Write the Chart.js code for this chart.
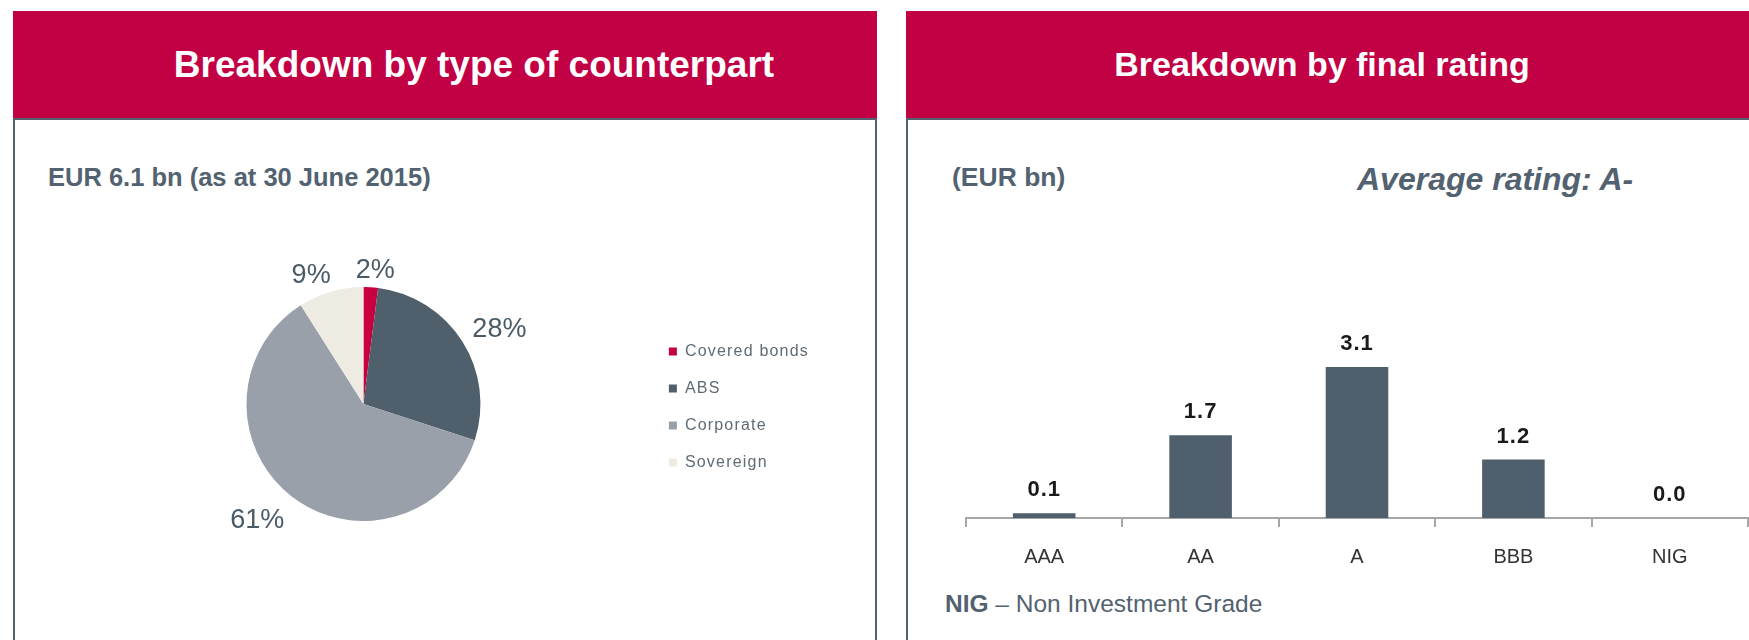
<!DOCTYPE html>
<html>
<head>
<meta charset="utf-8">
<title>Breakdown by counterpart and rating</title>
<script src="https://cdn.jsdelivr.net/npm/chart.js"></script>
<style>
  body { margin: 0; width: 1749px; height: 640px; overflow: hidden; background: #fff; position: relative;
         font-family: "Liberation Sans", Arial, sans-serif; }
  .hdr { position: absolute; top: 11px; height: 107px; background: #c20044; color: #fff; font-weight: bold;
         display: flex; align-items: center; justify-content: center; box-sizing: border-box; }
  .panel { position: absolute; top: 118px; height: 540px; border: 2px solid #536270; border-bottom: none;
           box-sizing: border-box; }
  .txt { position: absolute; color: #536270; white-space: nowrap; }
  canvas { position: absolute; }
</style>
</head>
<body>
<div class="panel" style="left:13px;width:864px;"></div>
<div class="panel" style="left:906px;width:870px;border-right:none;"></div>
<div class="hdr" style="left:13px;width:864px;padding-left:58px;font-size:37px;">Breakdown by type of counterpart</div>
<div class="hdr" style="left:906px;width:843px;padding-right:11px;font-size:34px;">Breakdown by final rating</div>

<div class="txt" style="left:48px;top:165px;font-size:25.5px;line-height:25px;font-weight:bold;">EUR 6.1 bn (as at 30 June 2015)</div>
<div class="txt" style="left:952px;top:164px;font-size:26.5px;line-height:26px;font-weight:bold;">(EUR bn)</div>
<div class="txt" style="left:1357px;top:163px;font-size:32px;line-height:32px;font-weight:bold;font-style:italic;">Average rating: A-</div>
<div class="txt" style="left:945px;top:592px;font-size:24.5px;line-height:24px;"><b>NIG</b> &ndash; Non Investment Grade</div>

<canvas id="pieChart" width="829" height="330" style="left:15px;top:230px;"></canvas>
<canvas id="barChart" width="788" height="278" style="left:961px;top:300px;"></canvas>

<script>
// counterpart breakdown (% of EUR 6.1 bn)
const counterpartLabels = ["Covered bonds", "ABS", "Corporate", "Sovereign"];
const counterpartShare = [2, 28, 61, 9];
const counterpartColors = ["#c8003f", "#4f5f6b", "#99a0aa", "#eeebe2"];

// rating breakdown (EUR bn)
const ratingLabels = ["AAA", "AA", "A", "BBB", "NIG"];
const ratingValues = [0.1, 1.7, 3.1, 1.2, 0.0];

const FONT = '"Liberation Sans", Arial, sans-serif';
const NARROW = '"Liberation Sans Narrow", "Arial Narrow", "Liberation Sans", sans-serif';

document.addEventListener("DOMContentLoaded", function () {

  // spaced-out legend text like the original slide
  const legendSpacing = {
    id: "legendSpacing",
    beforeLayout(chart) { chart.ctx.letterSpacing = "1.2px"; },
    beforeDraw(chart) { chart.ctx.letterSpacing = "1.2px"; }
  };

  // percentage labels just outside each slice
  const pieLabels = {
    id: "pieLabels",
    afterDatasetsDraw(chart) {
      const ctx = chart.ctx;
      const meta = chart.getDatasetMeta(0);
      const clamp = function (v) { return Math.max(-1, Math.min(1, v)); };
      ctx.save();
      ctx.letterSpacing = "0px";
      ctx.font = "27px " + NARROW;
      ctx.fillStyle = "#4a5a66";
      ctx.textAlign = "center";
      ctx.textBaseline = "middle";
      meta.data.forEach(function (arc, i) {
        const p = arc.getProps(["x", "y", "startAngle", "endAngle", "outerRadius"], true);
        const mid = (p.startAngle + p.endAngle) / 2;
        const text = counterpartShare[i] + "%";
        const w = ctx.measureText(text).width;
        const h = 20;
        const ux = Math.cos(mid), uy = Math.sin(mid);
        const d = p.outerRadius + 12;
        const x = p.x + ux * d + clamp(ux * 3) * w / 2;
        const y = p.y + uy * d + clamp(uy * 3) * h / 2 + 5;
        ctx.fillText(text, x, y);
      });
      ctx.restore();
    }
  };

  new Chart(document.getElementById("pieChart").getContext("2d"), {
    type: "pie",
    data: {
      labels: counterpartLabels,
      datasets: [{
        data: counterpartShare,
        backgroundColor: counterpartColors,
        borderWidth: 0
      }]
    },
    options: {
      responsive: false,
      animation: false,
      events: [],
      layout: { padding: { left: 64, right: 25, top: 57, bottom: 39 } },
      plugins: {
        legend: {
          position: "right",
          title: { display: true, text: "", padding: 0, font: { size: 5 } },
          labels: {
            boxWidth: 8,
            boxHeight: 8,
            padding: 21,
            color: "#5f6b75",
            font: { size: 16, family: FONT }
          }
        },
        tooltip: { enabled: false }
      }
    },
    plugins: [legendSpacing, pieLabels]
  });

  // value labels above each bar
  const barLabels = {
    id: "barLabels",
    afterDatasetsDraw(chart) {
      const ctx = chart.ctx;
      const meta = chart.getDatasetMeta(0);
      ctx.save();
      ctx.font = "bold 22px " + FONT;
      ctx.letterSpacing = "1px";
      ctx.fillStyle = "#1a1a1a";
      ctx.textAlign = "center";
      ctx.textBaseline = "middle";
      meta.data.forEach(function (bar, i) {
        ctx.fillText(ratingValues[i].toFixed(1), bar.x, bar.y - 23);
      });
      ctx.restore();
    }
  };

  new Chart(document.getElementById("barChart").getContext("2d"), {
    type: "bar",
    data: {
      labels: ratingLabels,
      datasets: [{
        data: ratingValues,
        backgroundColor: "#4f5f6b",
        borderWidth: 0,
        categoryPercentage: 1,
        barPercentage: 0.4
      }]
    },
    options: {
      responsive: false,
      animation: false,
      events: [],
      layout: { padding: { left: 5, right: 1, top: 23, bottom: 0 } },
      scales: {
        y: { display: false, min: 0, max: 4 },
        x: {
          afterFit: function (scale) { scale.height = 60; },
          grid: { drawOnChartArea: false, drawTicks: true, tickLength: 9, color: "#a6a6a6", lineWidth: 2, offset: true },
          border: { display: true, color: "#a6a6a6", width: 2 },
          ticks: { color: "#333333", padding: 18, font: { size: 20, family: FONT } }
        }
      },
      plugins: {
        legend: { display: false },
        tooltip: { enabled: false }
      }
    },
    plugins: [barLabels]
  });
});
</script>
</body>
</html>
